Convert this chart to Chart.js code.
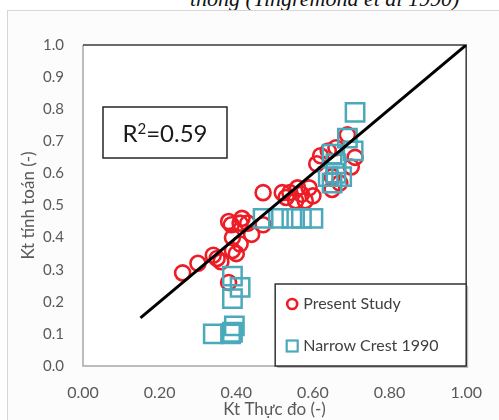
<!DOCTYPE html>
<html>
<head>
<meta charset="utf-8">
<script src="https://cdn.jsdelivr.net/npm/chart.js@4/dist/chart.umd.min.js"></script>
<style>
  html,body{margin:0;padding:0;background:#fff;overflow:hidden;}
  #wrap{position:relative;width:499px;height:420px;}
  #frame{position:absolute;left:7px;top:10px;width:500px;height:420px;border:1px solid #d6d6d6;background:#fcfcfc;box-sizing:border-box;}
  #ttl{position:absolute;left:190px;top:-13px;font:italic 22px "Liberation Serif","DejaVu Serif",serif;line-height:24px;color:#111;white-space:nowrap;}
  canvas{position:absolute;left:0;top:0;}
</style>
</head>
<body>
<div id="wrap">
  <div id="ttl">thông (Tingremona et al 1990)</div>
  <div id="frame"></div>
  <canvas id="c" width="499" height="420"></canvas>
</div>
<script>
// ---- data ----
const presentX = [0.26,0.30,0.34,0.35,0.38,0.387,0.41,0.39,0.41,0.39,0.44,0.47,0.38,0.415,0.43,0.36,0.40,
                  0.47,0.52,0.54,0.56,0.59,0.555,0.58,0.60,0.53,0.57,
                  0.61,0.62,0.64,0.66,0.69,0.71,0.70,0.65,0.67,0.65];
const presentY = [0.29,0.32,0.345,0.335,0.45,0.44,0.445,0.40,0.38,0.36,0.41,0.44,0.26,0.46,0.445,0.325,0.35,
                  0.54,0.54,0.54,0.555,0.555,0.515,0.515,0.53,0.525,0.535,
                  0.63,0.655,0.67,0.68,0.72,0.65,0.62,0.59,0.57,0.55];
const narrowX = [0.34,0.385,0.395,0.39,0.39,0.41,0.39,
                 0.47,0.51,0.545,0.57,0.60,
                 0.71,0.69,0.705,0.65,0.66,0.64,0.65,0.675,0.66];
const narrowY = [0.10,0.10,0.125,0.105,0.21,0.245,0.28,
                 0.46,0.46,0.46,0.46,0.46,
                 0.79,0.71,0.67,0.66,0.63,0.59,0.57,0.59,0.60];
const fitX = [0.15, 1.00];
const fitY = [0.15, 1.00];
const xTicks = [0.00,0.20,0.40,0.60,0.80,1.00];
const yTicks = [0.0,0.1,0.2,0.3,0.4,0.5,0.6,0.7,0.8,0.9,1.0];
const seriesNames = ["Present Study","Narrow Crest 1990"];
const r2Label = ["R", "2", "=0.59"];
const xTitle = "Kt Thực đo (-)";
const yTitle = "Kt tính toán (-)";

const RED = "#ee1c25";
const TEAL = "#4aaabb";
const FONT = "Lato, 'Open Sans', sans-serif";

const toPts = (xs, ys) => xs.map((x, i) => ({x, y: ys[i]}));

const decor = {
  id: "decor",
  beforeDatasetsDraw(chart) {
    const {ctx, chartArea: a} = chart;
    ctx.save();
    ctx.fillStyle = "#ffffff";
    ctx.fillRect(a.left, a.top, a.right - a.left, a.bottom - a.top);
    ctx.strokeStyle = "#a6a6a6";
    ctx.lineWidth = 1.5;
    ctx.beginPath();
    ctx.moveTo(a.left, a.top); ctx.lineTo(a.left, a.bottom); ctx.lineTo(a.right, a.bottom);
    ctx.stroke();
    ctx.strokeStyle = "#3a3a3a";
    ctx.beginPath();
    ctx.moveTo(a.left, a.top); ctx.lineTo(a.right, a.top); ctx.lineTo(a.right, a.bottom);
    ctx.stroke();
    ctx.restore();
  },
  afterDatasetsDraw(chart) {
    const {ctx, chartArea: a} = chart;
    ctx.save();
    // R2 box
    const bx = a.left + 20, by = a.top + 62, bw = 124, bh = 51;
    ctx.fillStyle = "#fff";
    ctx.fillRect(bx, by, bw, bh);
    ctx.strokeStyle = "#262626";
    ctx.lineWidth = 1.5;
    ctx.strokeRect(bx, by, bw, bh);
    ctx.fillStyle = "#1a1a1a";
    ctx.textBaseline = "alphabetic";
    ctx.textAlign = "left";
    const big = "24px " + FONT, small = "15px " + FONT;
    ctx.font = big; const w0 = ctx.measureText(r2Label[0]).width;
    const w2 = ctx.measureText(r2Label[2]).width;
    ctx.font = small; const w1 = ctx.measureText(r2Label[1]).width;
    let tx = bx + (bw - (w0 + w1 + w2)) / 2;
    const base = by + bh / 2 + 9;
    ctx.font = big; ctx.fillText(r2Label[0], tx, base); tx += w0;
    ctx.font = small; ctx.fillText(r2Label[1], tx, base - 8); tx += w1;
    ctx.font = big; ctx.fillText(r2Label[2], tx, base);

    // legend box
    const lw = 191, lh = 82;
    const lx = a.right - lw, ly = a.bottom - lh;
    ctx.fillStyle = "rgba(0,0,0,0.25)";
    ctx.fillRect(lx + 2, ly + 2, lw, lh);
    ctx.fillStyle = "#fff";
    ctx.fillRect(lx, ly, lw, lh);
    ctx.strokeStyle = "#333";
    ctx.lineWidth = 1.5;
    ctx.strokeRect(lx, ly, lw, lh);
    ctx.font = "16px " + FONT;
    ctx.textAlign = "left";
    ctx.textBaseline = "middle";
    const cy1 = ly + 20, cy2 = ly + 62;
    ctx.strokeStyle = RED; ctx.lineWidth = 2.6;
    ctx.beginPath(); ctx.arc(lx + 17, cy1, 5, 0, Math.PI * 2); ctx.stroke();
    ctx.fillStyle = "#404040";
    ctx.fillText(seriesNames[0], lx + 28, cy1);
    ctx.strokeStyle = TEAL; ctx.lineWidth = 2.2;
    ctx.strokeRect(lx + 11.5, cy2 - 5.5, 11, 11);
    ctx.fillText(seriesNames[1], lx + 28, cy2);
    ctx.restore();
  }
};

new Chart(document.getElementById("c"), {
  type: "scatter",
  data: {
    datasets: [
      {
        label: "fit", type: "line", data: toPts(fitX, fitY), order: 0,
        borderColor: "#000", borderWidth: 3, pointRadius: 0, fill: false, tension: 0
      },
      {
        label: seriesNames[1], data: toPts(narrowX, narrowY), order: 1,
        pointStyle: "rect", pointRadius: 13, borderColor: TEAL, borderWidth: 2.5,
        backgroundColor: "rgba(0,0,0,0)"
      },
      {
        label: seriesNames[0], data: toPts(presentX, presentY), order: 2,
        pointStyle: "circle", pointRadius: 7.5, borderColor: RED, borderWidth: 2.6,
        backgroundColor: "rgba(0,0,0,0)"
      }
    ]
  },
  options: {
    responsive: false,
    animation: false,
    events: [],
    layout: {padding: {left: 0, top: 45, right: 31, bottom: 0}},
    plugins: {legend: {display: false}, tooltip: {enabled: false}, title: {display: false}},
    scales: {
      x: {
        type: "linear", min: 0, max: 1,
        afterFit: s => { s.height = 54; },
        afterBuildTicks: s => { s.ticks = xTicks.map(v => ({value: v})); },
        grid: {display: false, drawTicks: false},
        border: {display: false},
        ticks: {padding: 17, color: "#595959", font: {family: FONT, size: 16}, maxRotation: 0,
                callback: v => Number(v).toFixed(2)},
        title: {display: true, text: xTitle, color: "#595959", font: {family: FONT, size: 17},
                padding: {top: 0, bottom: 0}}
      },
      y: {
        type: "linear", min: 0, max: 1,
        afterFit: s => { s.width = 83; },
        afterBuildTicks: s => { s.ticks = yTicks.map(v => ({value: v})); },
        grid: {display: false, drawTicks: false},
        border: {display: false},
        ticks: {padding: 19, color: "#595959", font: {family: FONT, size: 15},
                callback: v => Number(v).toFixed(1)},
        title: {display: true, text: yTitle, color: "#595959", font: {family: FONT, size: 17},
                padding: {top: 18, bottom: 0}}
      }
    }
  },
  plugins: [decor]
});
</script>
</body>
</html>
